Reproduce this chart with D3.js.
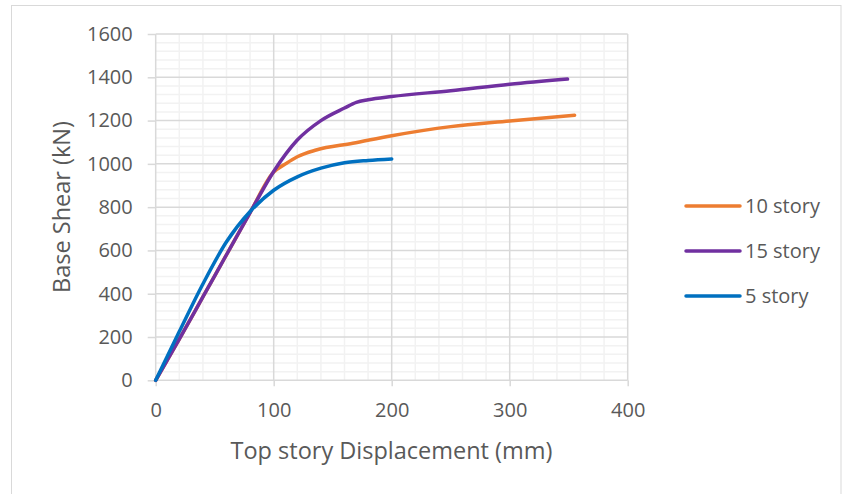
<!DOCTYPE html>
<html>
<head>
<meta charset="utf-8">
<script src="https://cdn.jsdelivr.net/npm/d3@7"></script>
<style>
  body { margin: 0; background: #fff; }
  text { font-family: "Open Sans", sans-serif; fill: #595959; }
  .title { font-size: 23.5px; }
  .legend { font-size: 20px; }
</style>
</head>
<body>
<div id="chart"></div>
<script>
const width = 842;
const height = 494;

// series (displacement mm, base shear kN)
const disp10 = [0, 20, 40, 60, 80, 100, 110, 120, 136, 167, 200, 250, 300, 355];
const shear10 = [0, 190, 385, 580, 775, 962, 1000, 1033, 1064, 1095, 1130, 1172, 1198, 1225];

const disp15 = [0, 20, 40, 60, 80, 100, 120, 140, 160, 170, 180, 200, 250, 300, 349];
const shear15 = [0, 190, 385, 580, 775, 965, 1110, 1200, 1258, 1284, 1296, 1311, 1338, 1368, 1392];

const disp5 = [0, 20, 40, 60, 80, 100, 120, 140, 160, 180, 200];
const shear5 = [0, 225, 445, 640, 780, 878, 940, 980, 1005, 1016, 1023];

const seriesNames = ["10 story", "15 story", "5 story"];
const seriesColors = ["#ED7D31", "#7030A0", "#0070C0"];

const xTicks = [0, 100, 200, 300, 400];
const yTicks = [0, 200, 400, 600, 800, 1000, 1200, 1400, 1600];

const series = [
  { name: seriesNames[0], color: seriesColors[0], pts: disp10.map((d, i) => [d, shear10[i]]) },
  { name: seriesNames[1], color: seriesColors[1], pts: disp15.map((d, i) => [d, shear15[i]]) },
  { name: seriesNames[2], color: seriesColors[2], pts: disp5.map((d, i) => [d, shear5[i]]) }
];

const svg = d3.select("#chart").append("svg")
  .attr("width", width)
  .attr("height", height);

// chart border
svg.append("rect")
  .attr("x", 11.5).attr("y", 5.5)
  .attr("width", 829.5).attr("height", 500)
  .attr("fill", "none")
  .attr("stroke", "#d9d9d9");

const x = d3.scaleLinear().domain([0, 400]).range([155.7, 627.7]);
const y = d3.scaleLinear().domain([0, 1600]).range([380.3, 34]);

// minor grid
svg.append("g").selectAll("line")
  .data(d3.range(0, 401, 20).filter(d => d % 100 != 0))
  .enter().append("line")
  .attr("x1", d => x(d)).attr("x2", d => x(d))
  .attr("y1", y(0)).attr("y2", y(1600))
  .attr("stroke", "#f2f2f2").attr("stroke-width", 1.5);
svg.append("g").selectAll("line")
  .data(d3.range(0, 1601, 40).filter(d => d % 200 != 0))
  .enter().append("line")
  .attr("x1", x(0)).attr("x2", x(400))
  .attr("y1", d => y(d)).attr("y2", d => y(d))
  .attr("stroke", "#f2f2f2").attr("stroke-width", 1.5);

// major grid
svg.append("g").selectAll("line")
  .data(xTicks)
  .enter().append("line")
  .attr("x1", d => x(d)).attr("x2", d => x(d))
  .attr("y1", y(0)).attr("y2", y(1600))
  .attr("stroke", "#d9d9d9").attr("stroke-width", 1.5);
svg.append("g").selectAll("line")
  .data(yTicks)
  .enter().append("line")
  .attr("x1", x(0)).attr("x2", x(400))
  .attr("y1", d => y(d)).attr("y2", d => y(d))
  .attr("stroke", "#d9d9d9").attr("stroke-width", 1.5);

// axes
const xAxis = svg.append("g")
  .attr("transform", `translate(0,${y(0)})`)
  .call(d3.axisBottom(x).tickValues(xTicks).tickFormat(d3.format("d")).tickSize(6).tickPadding(17));
const yAxis = svg.append("g")
  .attr("transform", `translate(${x(0)},0)`)
  .call(d3.axisLeft(y).tickValues(yTicks).tickFormat(d3.format("d")).tickSize(8).tickPadding(15));
[xAxis, yAxis].forEach(a => {
  a.attr("font-size", 20).attr("font-family", "Open Sans");
  a.select(".domain").remove();
  a.selectAll(".tick line").attr("stroke", "#d9d9d9").attr("stroke-width", 1.5);
  a.selectAll(".tick text").attr("fill", "#595959");
});

// lines
const line = d3.line()
  .x(d => x(d[0]))
  .y(d => y(d[1]))
  .curve(d3.curveMonotoneX);

svg.append("g").selectAll("path")
  .data(series)
  .enter().append("path")
  .attr("d", d => line(d.pts))
  .attr("fill", "none")
  .attr("stroke", d => d.color)
  .attr("stroke-width", 3.5)
  .attr("stroke-linecap", "round")
  .attr("stroke-linejoin", "round");

// axis titles
svg.append("text")
  .attr("class", "title")
  .attr("x", 391.5).attr("y", 459)
  .attr("text-anchor", "middle")
  .text("Top story Displacement (mm)");
svg.append("text")
  .attr("class", "title")
  .attr("transform", "translate(70,207) rotate(-90)")
  .attr("text-anchor", "middle")
  .text("Base Shear (kN)");

// legend
const legend = svg.append("g");
series.forEach((s, i) => {
  const ly = 206 + i * 45;
  legend.append("line")
    .attr("x1", 686).attr("x2", 740)
    .attr("y1", ly).attr("y2", ly)
    .attr("stroke", s.color)
    .attr("stroke-width", 3.5)
    .attr("stroke-linecap", "round");
  legend.append("text")
    .attr("class", "legend")
    .attr("x", 745).attr("y", ly)
    .attr("dy", "0.35em")
    .text(s.name);
});
</script>
</body>
</html>
